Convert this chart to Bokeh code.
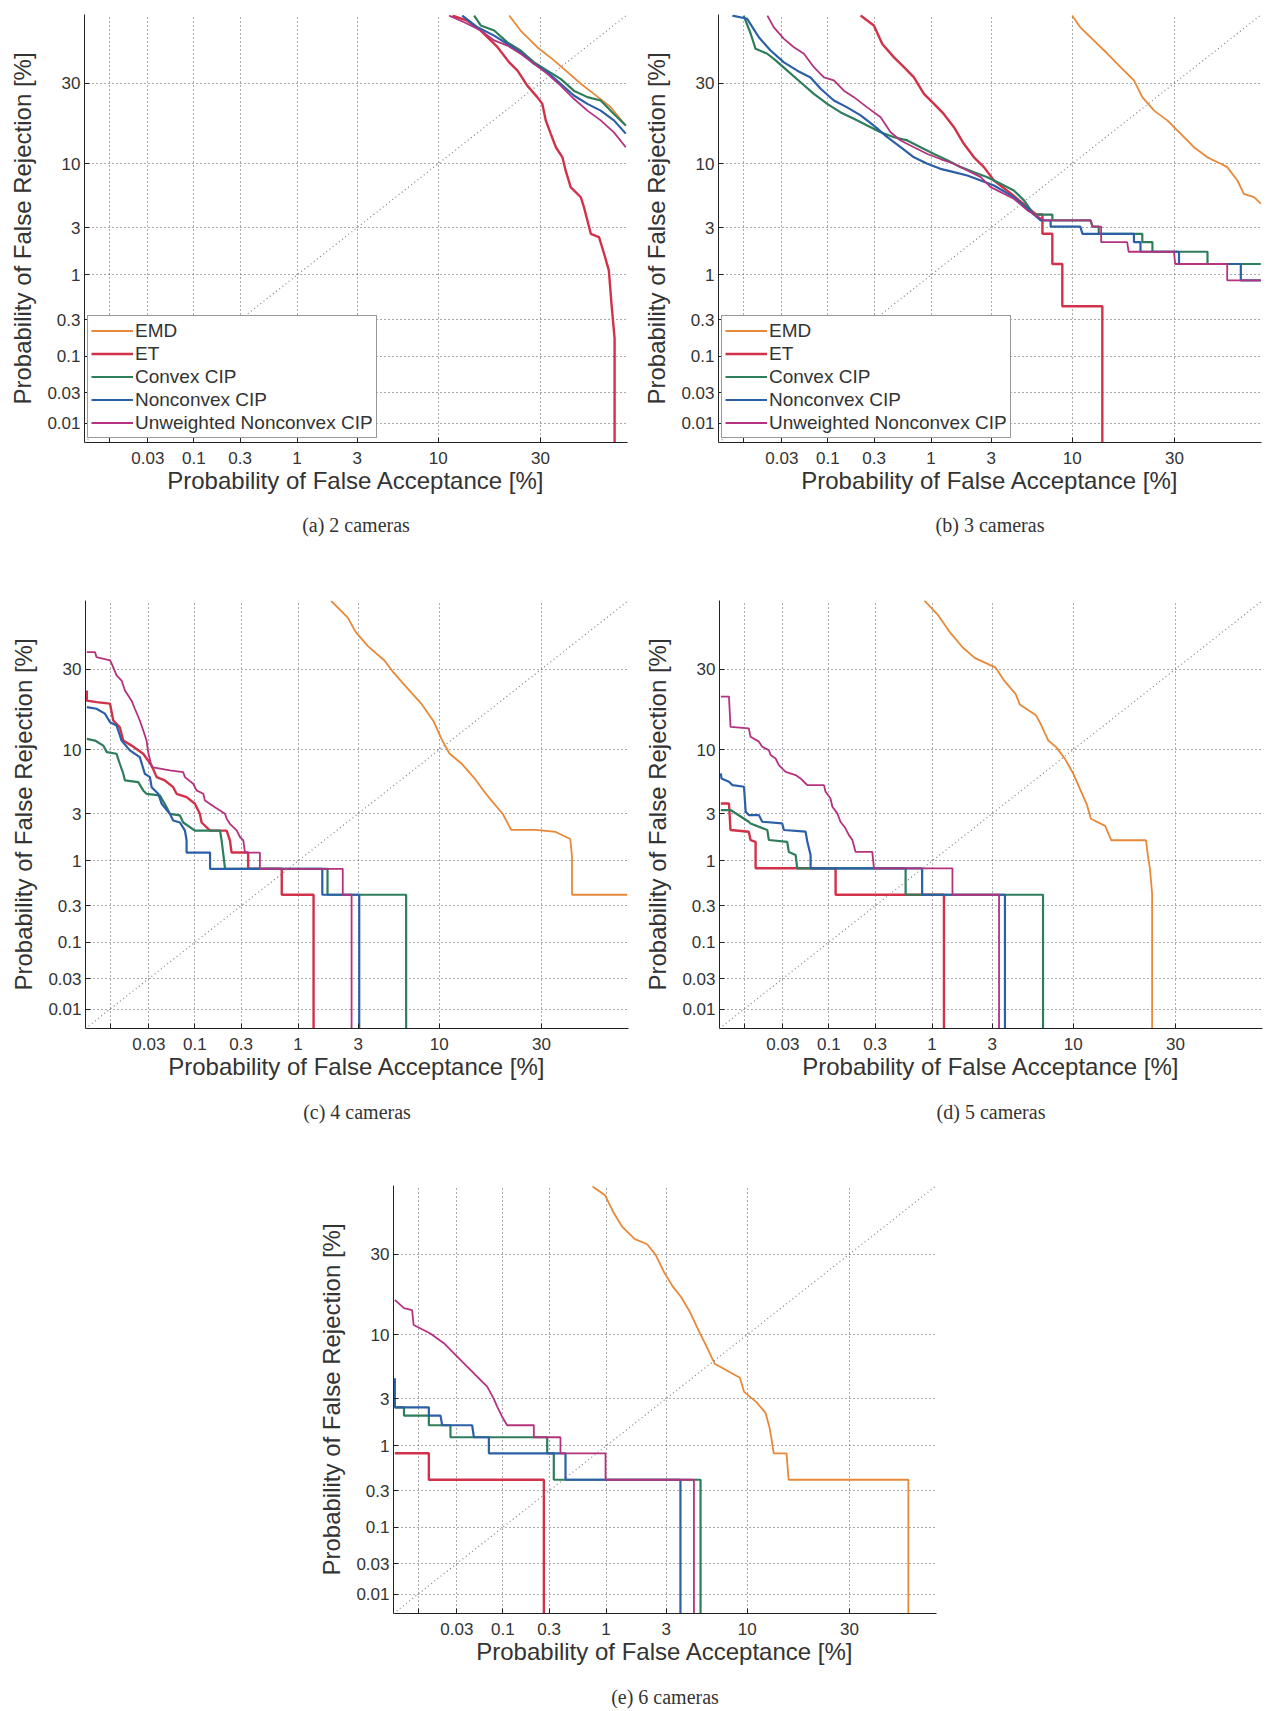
from statistics import NormalDist
from bokeh.plotting import figure
from bokeh.models import (Range1d, FixedTicker, CustomJSTickFormatter, Legend, LegendItem,
                          Title, Slope, Spacer)
from bokeh.layouts import row, column
from bokeh.embed import file_html
from bokeh.resources import INLINE

# ---------------- axis values (percent, DET / normal-deviate scale) ----------------
TICK_PCT = [0.01, 0.03, 0.1, 0.3, 1, 3, 10, 30]
Y_TICK_LABELS = ["0.01", "0.03", "0.1", "0.3", "1", "3", "10", "30"]
X_TICK_LABELS = ["", "0.03", "0.1", "0.3", "1", "3", "10", "30"]
AXIS_LIMITS_PCT = [0.0048, 54.8]

SERIES_NAMES = ["EMD", "ET", "Convex CIP", "Nonconvex CIP", "Unweighted Nonconvex CIP"]
SERIES_COLORS = ["#E8893A", "#D2314A", "#2E7D5B", "#2B5FA8", "#B5337E"]
CAPTIONS = ["(a) 2 cameras", "(b) 3 cameras", "(c) 4 cameras", "(d) 5 cameras", "(e) 6 cameras"]

# ---------------- (a) 2 cameras ----------------
A_EMD_FA = [22.5, 25.1, 29.2, 33.6, 37.3, 41.1, 44.9, 49.8, 54.3]
A_EMD_FR = [54.4, 48.8, 42.6, 37.8, 33.7, 29.8, 26.6, 22.7, 17.8]
A_ET_FA = [12.0, 14.3, 16.7, 20.0, 22.5, 24.4, 26.7, 29.2, 30.5, 31.4, 32.7, 34.1, 35.9, 36.8, 38.2,
           41.1, 42.0, 44.0, 46.4, 47.9, 49.3, 50.1, 51.0, 51.0]
A_ET_FR = [54.4, 52.5, 48.8, 42.6, 37.1, 34.2, 29.2, 25.6, 23.6, 19.1, 15.9, 13.0, 11.1, 8.9, 6.66,
           5.52, 4.56, 2.62, 2.44, 1.67, 1.12, 0.46, 0.174, 0]
A_CVX_FA = [15.5, 16.7, 19.3, 22.1, 25.1, 28.4, 31.8, 35.4, 39.1, 43.0, 46.9, 50.8, 54.3]
A_CVX_FR = [54.4, 50.7, 48.8, 44.4, 41.4, 37.1, 34.2, 31.4, 27.6, 25.6, 24.6, 20.8, 17.8]
A_NCVX_FA = [13.5, 16.1, 19.3, 22.1, 25.1, 28.4, 31.8, 35.4, 39.1, 43.0, 46.9, 50.8, 54.3]
A_NCVX_FR = [54.4, 50.0, 46.9, 43.8, 40.7, 36.6, 33.7, 29.8, 26.1, 23.6, 21.7, 19.1, 15.9]
A_UNW_FA = [11.5, 13.8, 16.7, 19.3, 22.1, 25.1, 28.4, 31.8, 35.4, 39.1, 43.0, 46.9, 50.8, 54.3]
A_UNW_FR = [54.4, 51.9, 48.8, 45.1, 43.2, 40.2, 36.6, 33.1, 29.2, 25.1, 21.7, 19.1, 16.2, 13.0]

# ---------------- (b) 3 cameras ----------------
B_EMD_FA = [10.0, 11.1, 13.1, 15.4, 17.8, 20.5, 22.3, 25.0, 28.2, 31.6, 35.2, 39.0, 42.8, 44.7, 47.7,
            49.6, 52.6, 54.6]
B_EMD_FR = [54.4, 50.0, 45.1, 40.2, 35.4, 30.9, 25.6, 21.7, 19.1, 15.9, 13.0, 11.1, 10.0, 9.45, 7.51,
            5.89, 5.53, 4.88]
B_ET_FA = [0.220, 0.298, 0.360, 0.465, 0.575, 0.708, 0.868, 1.06, 1.28, 1.55, 1.86, 2.23, 2.65, 3.14,
           4.15, 5.34, 6.1, 6.66, 6.66, 7.66, 7.66, 8.78, 8.78, 14.5, 14.5]
B_ET_FR = [54.4, 50.7, 43.8, 38.9, 35.4, 31.9, 26.6, 23.6, 20.8, 17.4, 13.7, 11.1, 9.45, 7.51,
           5.9, 4.56, 3.93, 3.93, 2.62, 2.62, 1.31, 1.31, 0.44, 0.44, 0]
B_CVX_FA = [0.0102, 0.0125, 0.0144, 0.0201, 0.0253, 0.0348, 0.0496, 0.0701, 0.0984, 0.137, 0.188,
            0.256, 0.347, 0.465, 0.617, 0.811, 1.06, 1.37, 1.76, 2.23, 2.81, 3.51, 4.33, 5.07, 5.89,
            7.66, 7.66, 12.6, 12.9, 13.9, 13.9, 22.3, 22.3, 24.6, 24.6, 39.0, 39.0, 54.6]
B_CVX_FR = [54.4, 47.6, 42.0, 40.2, 37.8, 34.2, 30.3, 26.6, 23.6, 21.2, 19.5, 17.8, 16.2, 15.1, 14.4,
            13.0, 11.7, 10.6, 9.45, 8.68, 7.96, 7.08, 6.27, 5.20, 3.93, 3.93, 3.49, 3.49, 3.06, 3.06,
            2.62, 2.62, 2.18, 2.18, 1.75, 1.75, 1.31, 1.31]
B_NCVX_FA = [0.0073, 0.0113, 0.0158, 0.0220, 0.0318, 0.0455, 0.0643, 0.0833, 0.116, 0.160, 0.220,
             0.298, 0.402, 0.536, 0.708, 0.929, 1.20, 1.55, 1.98, 2.51, 3.14, 4.33, 5.34, 6.49, 7.48,
             7.48, 11.1, 11.4, 20.5, 20.5, 21.9, 21.9, 31.2, 31.2, 48.7, 48.7, 54.6]
B_NCVX_FR = [54.4, 53.2, 46.3, 41.4, 37.1, 34.2, 31.9, 28.2, 24.6, 22.6, 20.4, 17.8, 15.1, 13.0, 11.1,
             10.0, 9.19, 8.68, 8.20, 7.51, 6.86, 5.53, 4.42, 3.49, 3.49, 3.06, 3.06, 2.62, 2.62, 2.18,
             2.18, 1.75, 1.75, 1.31, 1.31, 0.87, 0.87]
B_UNW_FA = [0.0201, 0.0241, 0.0318, 0.0416, 0.0542, 0.0701, 0.0905, 0.116, 0.148, 0.188, 0.256, 0.347,
            0.432, 0.536, 0.708, 0.929, 1.20, 1.55, 1.98, 2.51, 2.97, 4.33, 5.34, 6.81, 12.6, 12.9,
            14.3, 14.3, 19.1, 19.4, 29.9, 30.2, 44.7, 44.7, 54.6]
B_UNW_FR = [54.4, 50.0, 45.7, 42.6, 40.2, 35.4, 31.9, 30.9, 27.6, 25.6, 22.6, 19.9, 16.2, 14.4, 13.0,
            11.7, 10.8, 10.0, 8.93, 7.96, 6.66, 5.36, 4.27, 3.49, 3.49, 3.06, 3.06, 2.18, 2.18, 1.75,
            1.75, 1.31, 1.31, 0.87, 0.87]

# ---------------- (c) 4 cameras ----------------
C_EMD_FA = [1.87, 2.51, 2.88, 3.52, 4.58, 5.19, 6.23, 7.84, 9.27, 10.3, 11.4, 13.3, 15.4, 16.8, 18.4,
            20.9, 22.7, 28.5, 33.8, 37.8, 38.3, 38.3, 54.4]
C_EMD_FR = [54.7, 48.4, 43.0, 37.9, 32.9, 29.3, 24.9, 19.9, 15.6, 11.9, 9.4, 7.84, 6.06, 4.94, 4.0,
            2.97, 2.1, 2.1, 2.0, 1.70, 1.11, 0.41, 0.41]
C_ET_FA = [0.005, 0.005, 0.0067, 0.0100, 0.0110, 0.0133, 0.0147, 0.0186, 0.0257, 0.0324, 0.0371,
           0.0462, 0.0575, 0.0628, 0.0811, 0.100, 0.113, 0.118, 0.145, 0.215, 0.232, 0.241, 0.351,
           0.351, 0.72, 0.72, 1.35, 1.35]
C_ET_FR = [23.4, 20.6, 20.2, 19.8, 15.7, 14.2, 11.6, 10.7, 9.35, 7.65, 6.19, 5.82, 5.12, 4.50, 4.21,
           3.68, 2.98, 2.47, 2.06, 2.06, 1.65, 1.23, 1.23, 0.82, 0.82, 0.41, 0.41, 0]
C_CVX_FA = [0.005, 0.0064, 0.0082, 0.0091, 0.0121, 0.0133, 0.0147, 0.0154, 0.0224, 0.0257, 0.0282,
            0.0404, 0.0483, 0.0527, 0.0684, 0.0744, 0.100, 0.184, 0.191, 0.198, 0.207, 1.75, 1.75,
            6.35, 6.35]
C_CVX_FR = [11.9, 11.6, 10.7, 9.61, 9.35, 7.88, 6.59, 5.82, 5.64, 4.81, 4.50, 4.36, 3.43, 2.98, 2.88,
            2.47, 2.06, 2.06, 1.65, 1.23, 0.82, 0.82, 0.41, 0.41, 0]
C_NCVX_FA = [0.005, 0.0067, 0.0086, 0.0100, 0.0121, 0.0140, 0.0177, 0.0234, 0.0269, 0.0309, 0.0324,
             0.0387, 0.0424, 0.0527, 0.0575, 0.0684, 0.0778, 0.0811, 0.0811, 0.145, 0.145, 1.59, 1.59,
             3.05, 3.05]
C_NCVX_FR = [18.9, 18.5, 17.3, 15.3, 14.6, 11.6, 9.9, 8.83, 6.59, 6.19, 5.12, 4.50, 3.68, 2.98, 2.58,
             2.47, 2.06, 1.65, 1.23, 1.23, 0.82, 0.82, 0.41, 0.41, 0]
C_UNW_FA = [0.005, 0.0064, 0.0067, 0.0100, 0.0105, 0.0121, 0.0140, 0.0154, 0.0186, 0.0204, 0.0234,
            0.0257, 0.0282, 0.0295, 0.0324, 0.0527, 0.0744, 0.0778, 0.0958, 0.104, 0.123, 0.128,
            0.163, 0.207, 0.215, 0.232, 0.271, 0.292, 0.315, 0.327, 0.454, 0.454, 2.30, 2.30, 2.68,
            2.68]
C_UNW_FR = [35.8, 35.8, 34.0, 32.9, 31.8, 28.0, 26.4, 23.4, 20.6, 18.5, 15.7, 13.6, 11.6, 9.61, 7.42,
            7.00, 6.79, 6.19, 5.47, 4.81, 4.50, 3.94, 3.43, 2.98, 2.68, 2.40, 2.07, 1.78, 1.65, 1.23,
            1.23, 0.82, 0.82, 0.41, 0.41, 0]

# ---------------- (d) 5 cameras ----------------
D_EMD_FA = [0.856, 1.13, 1.43, 1.79, 2.23, 3.16, 3.62, 4.39, 4.68, 5.98, 6.34, 7.14, 7.99, 8.92, 9.94,
            11.0, 11.9, 12.5, 14.8, 15.9, 22.9, 23.3, 23.8, 24.3, 24.3]
D_EMD_FR = [54.8, 49.2, 42.6, 37.4, 33.7, 30.6, 26.6, 22.4, 19.6, 16.9, 15.2, 11.6, 10.4, 8.68, 6.75,
            4.81, 3.62, 2.68, 2.29, 1.65, 1.65, 1.17, 0.82, 0.42, 0]
D_ET_FA = [0.005, 0.0064, 0.0067, 0.0115, 0.0121, 0.0140, 0.0140, 0.118, 0.118, 1.26, 1.26]
D_ET_FR = [3.70, 3.70, 2.09, 2.01, 1.66, 1.59, 0.83, 0.83, 0.41, 0.41, 0]
D_CVX_FA = [0.005, 0.0067, 0.0115, 0.0121, 0.0195, 0.0204, 0.0338, 0.0353, 0.0424, 0.0442, 0.583,
            0.583, 6.62, 6.62]
D_CVX_FR = [3.23, 3.23, 2.51, 2.42, 2.09, 1.66, 1.59, 1.25, 1.16, 0.83, 0.83, 0.41, 0.41, 0]
D_NCVX_FA = [0.005, 0.0051, 0.0064, 0.0071, 0.0100, 0.0105, 0.0115, 0.0154, 0.0169, 0.0295, 0.0309,
             0.0551, 0.0577, 0.0628, 0.0628, 0.82, 0.82, 3.7, 3.7]
D_NCVX_FR = [6.63, 6.04, 5.68, 5.33, 5.16, 3.12, 2.90, 2.90, 2.51, 2.42, 2.09, 2.01, 1.59, 1.16, 0.83,
             0.83, 0.41, 0.41, 0]
D_UNW_FA = [0.005, 0.0064, 0.0067, 0.0115, 0.0121, 0.0154, 0.0169, 0.0204, 0.0214, 0.0246, 0.0269,
            0.0324, 0.0424, 0.0483, 0.0527, 0.0577, 0.0883, 0.0920, 0.104, 0.109, 0.123, 0.133, 0.150,
            0.163, 0.177, 0.191, 0.281, 0.292, 1.48, 1.48, 3.36, 3.36]
D_UNW_FR = [21.7, 21.7, 14.3, 14.0, 12.3, 11.4, 10.5, 9.94, 9.15, 8.63, 7.69, 6.83, 6.43, 6.04, 5.68,
            5.33, 5.33, 4.68, 4.10, 3.46, 3.01, 2.51, 2.17, 1.86, 1.66, 1.25, 1.25, 0.83, 0.83, 0.41,
            0.41, 0]

# ---------------- (e) 6 cameras ----------------
E_EMD_FA = [0.763, 0.98, 1.16, 1.37, 1.73, 2.16, 2.51, 2.90, 3.34, 3.83, 4.37, 4.98, 5.66, 6.40, 7.66,
            9.09, 9.61, 11.3, 12.6, 13.2, 13.6, 13.9, 16.1, 16.5, 46.5, 46.5]
E_EMD_FR = [54.4, 51.2, 44.6, 39.4, 35.1, 33.3, 29.7, 24.3, 20.4, 17.7, 14.5, 11.0, 8.24, 6.01, 5.26,
            4.59, 3.45, 2.76, 2.19, 1.59, 1.13, 0.83, 0.83, 0.41, 0.41, 0]
E_ET_FA = [0.005, 0.0137, 0.0137, 0.266, 0.266]
E_ET_FR = [0.83, 0.83, 0.41, 0.41, 0]
E_CVX_FA = [0.005, 0.0066, 0.0066, 0.0137, 0.0137, 0.0252, 0.0252, 0.287, 0.287, 0.333, 0.333, 5.19, 5.19]
E_CVX_FR = [2.48, 2.48, 2.06, 2.06, 1.65, 1.65, 1.24, 1.24, 0.83, 0.83, 0.41, 0.41, 0]
E_NCVX_FA = [0.005, 0.005, 0.0137, 0.0137, 0.0191, 0.0200, 0.0453, 0.0475, 0.0701, 0.0701, 0.431,
             0.431, 3.79, 3.79]
E_NCVX_FR = [4.55, 2.48, 2.48, 2.06, 2.06, 1.65, 1.65, 1.24, 1.24, 0.83, 0.83, 0.41, 0.41, 0]
E_UNW_FA = [0.005, 0.0066, 0.0084, 0.0088, 0.0143, 0.0210, 0.0303, 0.0397, 0.0517, 0.0672, 0.0797,
            0.0866, 0.098, 0.111, 0.211, 0.211, 0.386, 0.386, 0.99, 0.99, 4.69, 4.69]
E_UNW_FR = [17.0, 15.1, 14.7, 11.7, 10.2, 8.67, 6.84, 5.70, 4.70, 3.84, 2.96, 2.52, 2.01, 1.65, 1.65,
            1.24, 1.24, 0.83, 0.83, 0.41, 0.41, 0]

PANELS = [
    [(A_EMD_FA, A_EMD_FR), (A_ET_FA, A_ET_FR), (A_CVX_FA, A_CVX_FR), (A_NCVX_FA, A_NCVX_FR), (A_UNW_FA, A_UNW_FR)],
    [(B_EMD_FA, B_EMD_FR), (B_ET_FA, B_ET_FR), (B_CVX_FA, B_CVX_FR), (B_NCVX_FA, B_NCVX_FR), (B_UNW_FA, B_UNW_FR)],
    [(C_EMD_FA, C_EMD_FR), (C_ET_FA, C_ET_FR), (C_CVX_FA, C_CVX_FR), (C_NCVX_FA, C_NCVX_FR), (C_UNW_FA, C_UNW_FR)],
    [(D_EMD_FA, D_EMD_FR), (D_ET_FA, D_ET_FR), (D_CVX_FA, D_CVX_FR), (D_NCVX_FA, D_NCVX_FR), (D_UNW_FA, D_UNW_FR)],
    [(E_EMD_FA, E_EMD_FR), (E_ET_FA, E_ET_FR), (E_CVX_FA, E_CVX_FR), (E_NCVX_FA, E_NCVX_FR), (E_UNW_FA, E_UNW_FR)],
]

# ---------------- styling / layout ----------------
LINE_WIDTHS = [1.8, 2.4, 2.2, 2.2, 1.8]
SANS = "Liberation Sans"
SERIF = "Liberation Serif"
FRAME_W, FRAME_H = 543, 428

_nd = NormalDist()


def probit(pcts):
    """Normal-deviate (DET) transform of percentages; 0 % lies below the axis."""
    out = []
    for v in pcts:
        out.append(_nd.inv_cdf(v / 100.0) if v > 0 else -6.0)
    return out


FMT_CODE = """
let best = 0; let d = Infinity;
for (let i = 0; i < tpos.length; i++) {
  const dd = Math.abs(tpos[i] - tick);
  if (dd < d) { d = dd; best = i; }
}
return tlab[best];
"""


def make_panel(idx, borders, show_legend, cap_standoff):
    bl, br, bt, bb = borders
    zmin, zmax = probit(AXIS_LIMITS_PCT)
    p = figure(frame_width=FRAME_W, frame_height=FRAME_H,
               x_range=Range1d(zmin, zmax), y_range=Range1d(zmin, zmax),
               output_backend="svg", toolbar_location=None,
               min_border_left=bl, min_border_right=br, min_border_top=bt, min_border_bottom=bb,
               background_fill_color="white", border_fill_color="white")
    p.outline_line_color = None
    tz = probit(TICK_PCT)
    for ax, labels in ((p.xaxis[0], X_TICK_LABELS), (p.yaxis[0], Y_TICK_LABELS)):
        ax.ticker = FixedTicker(ticks=tz)
        ax.formatter = CustomJSTickFormatter(args=dict(tpos=tz, tlab=labels), code=FMT_CODE)
        ax.major_tick_in = 5
        ax.major_tick_out = 0
        ax.minor_tick_line_color = None
        ax.axis_line_color = "#222222"
        ax.major_tick_line_color = "#222222"
        ax.major_label_text_font = SANS
        ax.major_label_text_font_size = "17px"
        ax.major_label_text_color = "#333333"
        ax.axis_label_text_font = SANS
        ax.axis_label_text_font_size = "24px"
        ax.axis_label_text_font_style = "normal"
        ax.axis_label_text_color = "#333333"
    p.xaxis.axis_label = "Probability of False Acceptance [%]"
    p.yaxis.axis_label = "Probability of False Rejection [%]"
    p.xaxis.major_label_standoff = 9
    p.xaxis.axis_label_standoff = 0
    p.yaxis.major_label_standoff = 4
    p.yaxis.axis_label_standoff = 8

    for g in (p.xgrid[0], p.ygrid[0]):
        g.grid_line_color = "#555555"
        g.grid_line_dash = "1 3"
        g.grid_line_width = 1
        g.grid_line_alpha = 1.0

    p.add_layout(Slope(gradient=1, y_intercept=0, line_color="#808080",
                       line_dash="1 3", line_width=1.2))

    renderers = []
    for (fa, fr), color, width in zip(PANELS[idx], SERIES_COLORS, LINE_WIDTHS):
        r = p.line(probit(fa), probit(fr), line_color=color, line_width=width)
        renderers.append(r)

    if show_legend:
        legend = Legend(items=[LegendItem(label=n, renderers=[r]) for n, r in zip(SERIES_NAMES, renderers)],
                        location=(3, 4), margin=0, padding=3, spacing=0,
                        label_height=23, glyph_height=23, glyph_width=42, label_standoff=2,
                        label_text_font=SANS, label_text_font_size="19px", label_text_color="#333333",
                        border_line_color="#333333", border_line_width=1,
                        background_fill_color="white", background_fill_alpha=1.0)
        p.add_layout(legend)

    p.add_layout(Title(text=CAPTIONS[idx], align="center", text_font=SERIF, text_font_size="20px",
                       text_font_style="normal", text_color="#333333", standoff=cap_standoff), "below")
    return p


pa = make_panel(0, (84, 11, 14, 111), True, 31)
pb = make_panel(1, (80, 4, 14, 111), True, 31)
pc = make_panel(2, (85, 10, 47, 105), False, 33)
pd = make_panel(3, (81, 3, 47, 105), False, 33)
pe = make_panel(4, (76, 10, 46, 102), False, 33)

layout = column(row(pa, pb), row(pc, pd), row(Spacer(width=315, height=10), pe))

open("out.html", "w").write(file_html(layout, INLINE))
